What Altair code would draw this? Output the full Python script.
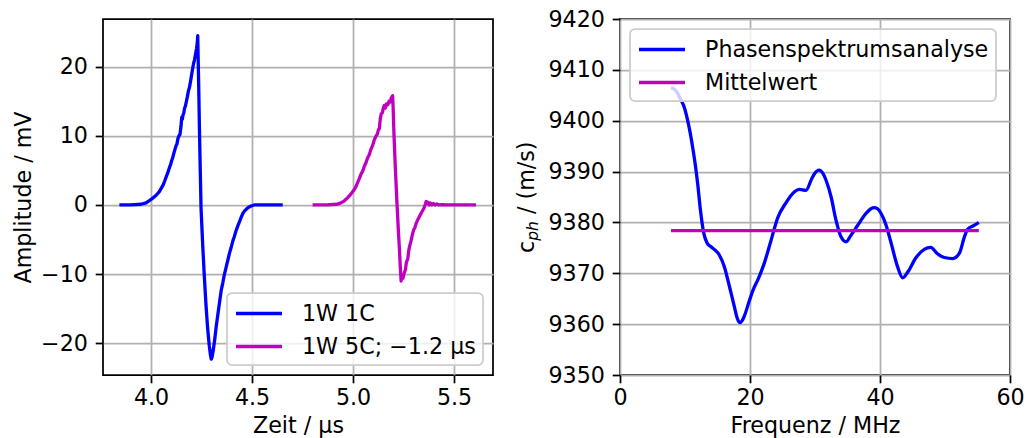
import altair as alt
import pandas as pd

# --- left panel: time signals -------------------------------------------
t_1c = [3.843, 3.90, 3.95, 3.975, 3.99, 4.005, 4.025, 4.04, 4.05, 4.06, 4.068,
        4.074, 4.082, 4.09, 4.097, 4.103, 4.107, 4.112, 4.118, 4.124, 4.128,
        4.133, 4.138, 4.143, 4.148, 4.152, 4.155, 4.158, 4.162, 4.166, 4.170,
        4.175, 4.18, 4.185, 4.19, 4.195, 4.2, 4.205, 4.21, 4.215, 4.22, 4.225,
        4.229, 4.231, 4.236, 4.24, 4.2475, 4.256, 4.264, 4.272, 4.28, 4.288,
        4.294, 4.298, 4.302, 4.308, 4.315, 4.323, 4.33, 4.34, 4.347, 4.355,
        4.362, 4.371, 4.38, 4.388, 4.396, 4.405, 4.412, 4.42, 4.43, 4.437,
        4.446, 4.455, 4.462, 4.479, 4.495, 4.511, 4.55, 4.60, 4.652]
a_1c = [0.0, 0.0, 0.1, 0.3, 0.6, 0.9, 1.4, 1.9, 2.4, 2.9, 3.5,
        4.0, 4.6, 5.3, 5.9, 6.5, 6.8, 7.4, 8.0, 8.6, 8.8,
        9.6, 10.0, 10.2, 11.3, 12.7, 12.4, 13.0, 13.3, 14.0, 14.3,
        15.0, 15.7, 16.5, 17.0, 17.8, 18.7, 19.6, 20.4, 21.0, 21.8, 22.6,
        23.5, 24.5, 17.0, 10.2, -0.5, -6.0, -10.5, -14.5, -17.8, -20.3,
        -21.7, -22.3, -22.0, -21.0, -19.5, -17.5, -16.0, -13.9, -12.4, -11.3,
        -10.2, -9.1, -8.0, -7.0, -6.2, -5.2, -4.6, -3.8, -3.0, -2.5,
        -1.8, -1.2, -0.9, -0.4, -0.15, 0.0, 0.0, 0.0, 0.0]

t_5c = [4.80, 4.87, 4.92, 4.94, 4.957, 4.975, 4.99, 5.0, 5.008, 5.015, 5.022,
        5.031, 5.04, 5.048, 5.056, 5.064, 5.072, 5.081, 5.088, 5.097, 5.105,
        5.114, 5.12, 5.126, 5.13, 5.135, 5.14, 5.145, 5.15, 5.155, 5.16,
        5.165, 5.172, 5.178, 5.184, 5.19, 5.196, 5.198, 5.203, 5.21, 5.218,
        5.225, 5.23, 5.234, 5.238, 5.242, 5.247, 5.254, 5.26, 5.264, 5.271,
        5.276, 5.28, 5.287, 5.293, 5.3, 5.306, 5.312, 5.318, 5.325, 5.33,
        5.337, 5.345, 5.352, 5.358, 5.362, 5.366, 5.37, 5.376, 5.382, 5.39,
        5.398, 5.406, 5.415, 5.425, 5.44, 5.46, 5.609]
a_5c = [0.0, 0.0, 0.1, 0.3, 0.6, 1.1, 1.6, 2.0, 2.3, 2.7, 3.2,
        3.8, 4.5, 4.9, 5.6, 6.1, 6.8, 7.3, 8.0, 8.6, 9.4,
        10.0, 10.2, 10.9, 11.0, 12.5, 13.2, 13.3, 14.0, 14.4, 14.0,
        14.6, 14.5, 15.0, 14.9, 15.5, 15.8, 14.5, 10.0, 5.0, 0.0,
        -4.0, -6.5, -9.0, -11.0, -10.3, -10.6, -9.8, -9.3, -8.3, -7.8,
        -6.6, -6.0, -5.2, -4.4, -3.6, -3.3, -2.7, -2.3, -1.9, -1.6,
        -1.2, -0.8, -0.4, 0.1, 0.5, 0.2, 0.4, 0.0, 0.3, 0.0,
        0.2, 0.0, 0.15, 0.0, 0.05, 0.0, 0.0]

# --- right panel: phase velocity vs. frequency ---------------------------
f_ph = [7.85, 8.6, 9.3, 9.9, 10.4, 10.8, 11.2, 11.6, 11.95, 12.36, 12.87,
        13.38, 13.9, 14.5, 15.28, 16.05, 16.8, 17.6, 18.0, 18.4, 18.8,
        19.1, 19.9, 20.5, 21.2, 22.2, 23.2, 24.26, 25.5, 26.8, 27.6,
        28.6, 29.5, 30.0, 30.6, 31.2, 31.7, 32.5, 33.2, 34.0, 34.8,
        35.5, 36.6, 37.8, 38.6, 39.1, 39.6, 40.15, 40.9, 41.7, 42.7,
        43.5, 44.3, 45.5, 46.8, 47.8, 48.8, 49.9, 51.2, 52.2, 53.0,
        53.5, 54.3, 55.2]
c_ph = [9406.5, 9405.9, 9404.3, 9402.6, 9400.1, 9397.6, 9394.6, 9391.2, 9387.6, 9382.6, 9378.0,
        9376.0, 9375.3, 9374.7, 9373.6, 9371.3, 9367.6, 9363.4, 9361.3, 9360.3, 9360.7,
        9361.5, 9364.6, 9366.8, 9368.7, 9372.0, 9376.3, 9380.9, 9383.8, 9386.0, 9386.5,
        9386.3, 9388.6, 9389.7, 9390.3, 9389.7, 9388.3, 9384.9, 9380.6, 9377.2, 9376.2,
        9377.4, 9379.5, 9381.7, 9382.7, 9382.9, 9382.7, 9381.8, 9379.6, 9376.0, 9371.3,
        9369.1, 9370.3, 9373.0, 9374.7, 9375.1, 9373.9, 9373.1, 9372.9, 9373.9, 9377.2,
        9378.7, 9379.3, 9380.0]
mean_f = [7.85, 55.2]
mean_c = 9378.4

BLUE = "#0000ff"
MAGENTA = "#bf00bf"
FONT = "DejaVu Sans"
FS = 22.2
LW = 3.3
THIN = 1.75
TICK = 7.8

lab_1c = "1W 1C"
lab_5c = "1W 5C; \u22121.2 \u00b5s"
lab_ph = "Phasenspektrumsanalyse"
lab_mw = "Mittelwert"

df_1c = pd.DataFrame({"t": t_1c, "a": a_1c, "s": lab_1c})
df_5c = pd.DataFrame({"t": t_5c, "a": a_5c, "s": lab_5c})
df_ph = pd.DataFrame({"f": f_ph, "c": c_ph, "s": lab_ph})
df_mw = pd.DataFrame({"f": mean_f, "c": [mean_c, mean_c], "s": lab_mw})

# left panel
x_l = alt.X("t:Q", scale=alt.Scale(domain=[3.762, 5.693], nice=False, zero=False),
            axis=alt.Axis(title="Zeit / \u00b5s", values=[4.0, 4.5, 5.0, 5.5], format=".1f",
                          labelPadding=4, titlePadding=5))
y_l = alt.Y("a:Q", scale=alt.Scale(domain=[-24.6, 26.9], nice=False, zero=False),
            axis=alt.Axis(title="Amplitude / mV", values=[-20, -10, 0, 10, 20], format="d",
                          labelPadding=TICK, titlePadding=5))
col_l = alt.Color("s:N", scale=alt.Scale(domain=[lab_1c, lab_5c], range=[BLUE, MAGENTA]),
                  legend=alt.Legend(title=None, orient="bottom-right"))

line_1c = alt.Chart(df_1c).mark_line(strokeWidth=LW, strokeJoin="round").encode(x=x_l, y=y_l, color=col_l)
line_5c = alt.Chart(df_5c).mark_line(strokeWidth=LW, strokeJoin="round").encode(x=x_l, y=y_l, color=col_l)
left = alt.layer(line_1c, line_5c).properties(width=390, height=356)

# right panel
x_r = alt.X("f:Q", scale=alt.Scale(domain=[0, 60], nice=False),
            axis=alt.Axis(title="Frequenz / MHz", values=[0, 20, 40, 60], format="d",
                          labelPadding=4, titlePadding=5))
y_r = alt.Y("c:Q", scale=alt.Scale(domain=[9350, 9420], nice=False, zero=False),
            axis=alt.Axis(title=None, values=list(range(9350, 9421, 10)), format="d",
                          labelPadding=TICK))
col_r = alt.Color("s:N", scale=alt.Scale(domain=[lab_ph, lab_mw], range=[BLUE, MAGENTA]),
                  legend=alt.Legend(title=None, orient="top-left"))

line_ph = alt.Chart(df_ph).mark_line(strokeWidth=LW, interpolate="monotone",
                                     strokeJoin="round").encode(x=x_r, y=y_r, color=col_r)
line_mw = alt.Chart(df_mw).mark_line(strokeWidth=LW).encode(x=x_r, y=y_r, color=col_r)

# y title "c_ph / (m/s)" with an italic subscript, built from three text pieces
TX, TY = -86, 234
one = pd.DataFrame({"k": [0]})
t_c = alt.Chart(one).mark_text(text="c", angle=270, align="left", baseline="alphabetic",
                               font=FONT, fontSize=FS, color="black").encode(
    x=alt.value(TX), y=alt.value(TY))
t_sub = alt.Chart(one).mark_text(text="ph", angle=270, align="left", baseline="alphabetic",
                                 font=FONT, fontSize=15.5, fontStyle="italic", color="black",
                                 dx=12.2, dy=3.7).encode(x=alt.value(TX), y=alt.value(TY))
t_rest = alt.Chart(one).mark_text(text="/ (m/s)", angle=270, align="left", baseline="alphabetic",
                                  font=FONT, fontSize=FS, color="black",
                                  dx=39.0).encode(x=alt.value(TX), y=alt.value(TY))

right = alt.layer(line_ph, line_mw, t_c, t_sub, t_rest).properties(width=390, height=356)

# legend key: a short horizontal line drawn as a custom symbol path
# (scaled by sqrt(size)/2, so it spans 4 radii while the row stays compact)
KEY_PATH = "M-1,0L3,0"

chart = (
    alt.hconcat(left, right, spacing=127, bounds="flush")
    .resolve_scale(color="independent")
    .properties(padding={"left": 11, "top": 7, "right": 0, "bottom": 0})
    .configure(font=FONT)
    .configure_view(stroke="black", strokeWidth=THIN)
    .configure_axis(
        domain=False,
        grid=True, gridColor="#b0b0b0", gridWidth=THIN,
        ticks=True, tickColor="black", tickWidth=THIN, tickSize=TICK,
        labelFont=FONT, labelFontSize=FS, labelColor="black",
        labelFlush=False, labelOverlap=False,
        titleFont=FONT, titleFontSize=FS, titleFontWeight="normal", titleColor="black",
    )
    .configure_legend(
        fillColor="rgba(255,255,255,0.8)", strokeColor="#cccccc", strokeWidth=THIN,
        cornerRadius=5, padding=7, offset=10,
        symbolType=KEY_PATH, symbolStrokeWidth=LW, symbolSize=529,
        symbolFillColor="transparent",
        labelFont=FONT, labelFontSize=FS, labelColor="black", labelLimit=500,
        labelOffset=41, rowPadding=8,
    )
)

chart.save("out.html", embed_options={"renderer": "svg", "actions": False})
